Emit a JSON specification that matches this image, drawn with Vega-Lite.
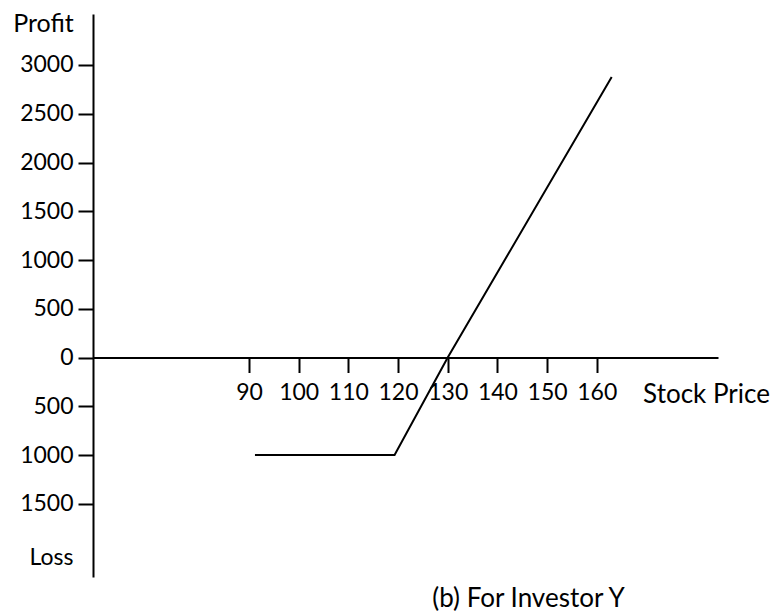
{
  "$schema": "https://vega.github.io/schema/vega-lite/v6.json",
  "width": 625,
  "height": 563,
  "autosize": {"type": "none"},
  "padding": {"left": 93, "top": 14, "right": 55, "bottom": 38},
  "background": "white",
  "config": {"view": {"stroke": null}, "font": "Lato"},
  "title": {
    "text": "(b) For Investor Y",
    "orient": "bottom",
    "anchor": "middle",
    "frame": "group",
    "dx": 123,
    "offset": 9,
    "fontSize": 26,
    "fontWeight": "normal",
    "color": "black",
    "font": "Lato"
  },
  "data": {
    "values": [
      {"price": 91.2, "profit": -1000},
      {"price": 119.3, "profit": -1000},
      {"price": 130, "profit": 0},
      {"price": 163, "profit": 2877}
    ]
  },
  "mark": {"type": "line", "color": "black", "strokeWidth": 2, "clip": false},
  "encoding": {
    "x": {
      "field": "price",
      "type": "quantitative",
      "scale": {"domain": [58.6, 184.4], "nice": false, "zero": false},
      "axis": {
        "orient": "bottom",
        "offset": -219.5,
        "values": [90, 100, 110, 120, 130, 140, 150, 160],
        "grid": false,
        "tickSize": 15,
        "tickWidth": 2,
        "tickColor": "black",
        "domainColor": "black",
        "domainWidth": 2,
        "labelFontSize": 23,
        "labelColor": "black",
        "labelPadding": 9,
        "labelFlush": false,
        "title": "Stock Price",
        "titleFontSize": 26,
        "titleFontWeight": "normal",
        "titleColor": "black",
        "titleX": 613,
        "titleY": 37,
        "titleAlign": "center",
        "titleBaseline": "middle"
      }
    },
    "y": {
      "field": "profit",
      "type": "quantitative",
      "scale": {"domain": [-2251, 3523], "nice": false, "zero": false},
      "axis": {
        "orient": "left",
        "values": [3000, 2500, 2000, 1500, 1000, 500, 0, -500, -1000, -1500, -2050],
        "labelExpr": "datum.value < -1900 ? 'Loss' : format(abs(datum.value), 'd')",
        "grid": false,
        "tickSize": 15,
        "tickWidth": 2,
        "tickColor": "black",
        "tickOpacity": {"condition": {"test": "datum.value < -1900", "value": 0}, "value": 1},
        "domainColor": "black",
        "domainWidth": 2,
        "labelFontSize": 23,
        "labelColor": "black",
        "labelPadding": 5,
        "title": "Profit",
        "titleFontSize": 25,
        "titleFontWeight": "normal",
        "titleColor": "black",
        "titleAngle": 0,
        "titleX": -50,
        "titleY": 9,
        "titleAlign": "center",
        "titleBaseline": "middle"
      }
    }
  }
}
